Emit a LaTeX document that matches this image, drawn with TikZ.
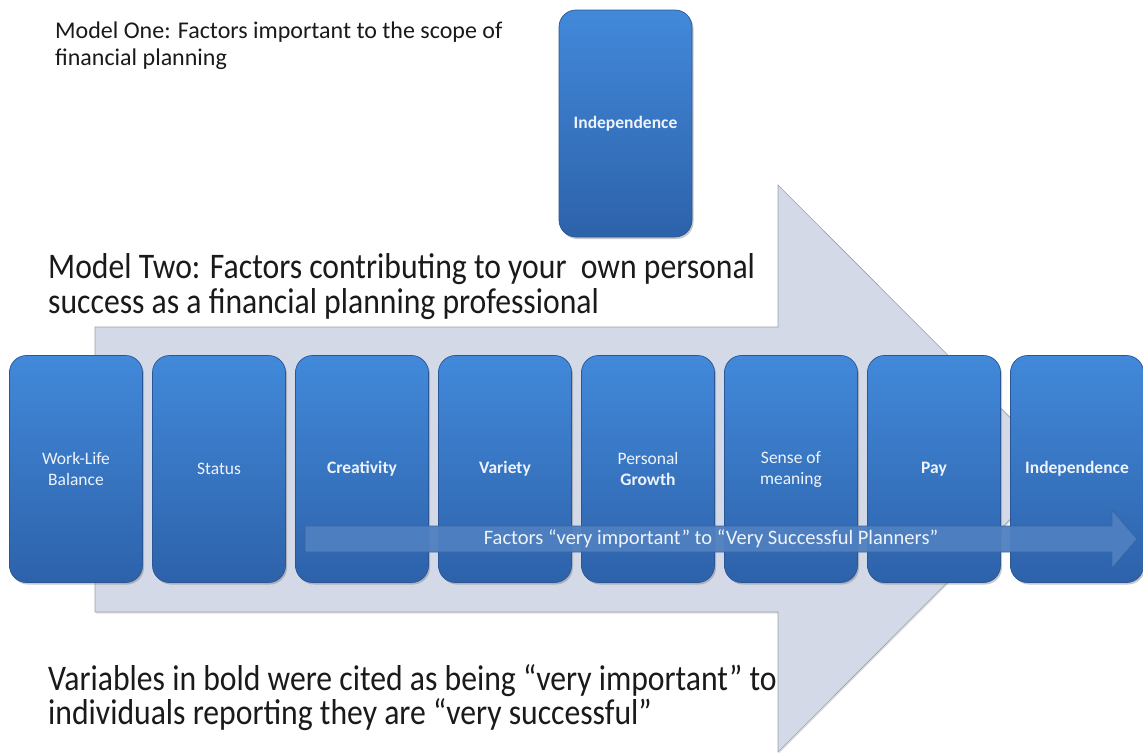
\documentclass[tikz,border=0pt]{standalone}
\usepackage{fontspec}
\setmainfont{Carlito}
\newfontfamily\condfont[FakeStretch=0.88]{Carlito}
\usetikzlibrary{shadows}
\definecolor{arrowfill}{HTML}{D3D9E6}
\definecolor{arrowline}{HTML}{9AA2AE}
\definecolor{boxtop}{HTML}{4289DA}
\definecolor{boxbot}{HTML}{2D62AA}
\definecolor{boxline}{HTML}{2A5695}
\definecolor{boxtext}{HTML}{EEF3FA}
\definecolor{thinfill}{HTML}{4F80C0}
\definecolor{thinline}{HTML}{3765A3}
\definecolor{txt}{HTML}{1A1A1A}
\begin{document}
\begin{tikzpicture}[x=1pt,y=-1pt,
  factorbox/.style={draw=boxline, line width=0.7pt, rounded corners=17pt,
    top color=boxtop, bottom color=boxbot, minimum width=133pt, minimum height=227pt,
    inner sep=2pt, text=boxtext, align=center, font=\fontsize{17.5}{21}\selectfont,
    drop shadow={shadow xshift=1.5pt, shadow yshift=-2pt, opacity=0.35, fill=black!60}},
  bigarrow/.style={fill=arrowfill, draw=arrowline, line width=0.6pt,
    drop shadow={shadow xshift=1pt, shadow yshift=-1.5pt, opacity=0.25}},
  thinarrow/.style={fill=thinfill, fill opacity=0.95, draw=thinline, line width=0.7pt},
  caption/.style={anchor=base west, inner sep=0pt, align=left, text=txt}
]
\useasboundingbox (0,0) rectangle (1143,753);
\fill[white] (0,0) rectangle (1143,753);

% big background arrow
\draw[bigarrow] (95,327) -- (778,327) -- (778,185) -- (1061,468.5) -- (778,752) -- (778,612) -- (95,612) -- cycle;

% top text (anchor = baseline of last line)
\node[caption, font=\fontsize{24}{27}\selectfont] (m1) at (55,65)
  {Model One: Factors important to the scope of\\financial planning};

% top independence box
\node[factorbox] (top) at (625.5,123.5) {\textbf{Independence}};

% model two text
\node[caption, font=\condfont\fontsize{36}{35}\selectfont] (m2) at (48,313)
  {Model Two: Factors contributing to your\ \ own personal\\success as a financial planning professional};

% row of factor boxes
\node[factorbox] (b1) at (76,469) {Work-Life\\Balance};
\node[factorbox] (b2) at (219,469) {Status};
\node[factorbox] (b3) at (362,469) {\textbf{Creativity}};
\node[factorbox] (b4) at (505,469) {\textbf{Variety}};
\node[factorbox] (b5) at (648,469) {Personal\\\textbf{Growth}};
\node[factorbox] (b6) at (791,469) {Sense of\\meaning};
\node[factorbox] (b7) at (934,469) {\textbf{Pay}};
\node[factorbox] (b8) at (1077,469) {\textbf{Independence}};

% thin arrow
\draw[thinarrow] (305,526) -- (1112,526) -- (1112,510) -- (1137,539) -- (1112,568) -- (1112,552) -- (305,552) -- cycle;
\node[text=boxtext, font=\fontsize{20.5}{24}\selectfont, inner sep=0pt] (fl) at (711,539)
  {Factors “very important” to “Very Successful Planners”};

% bottom text
\node[caption, font=\condfont\fontsize{36}{34}\selectfont] (m3) at (48,724)
  {Variables in bold were cited as being “very important” to\\individuals reporting they are “very successful”};
\end{tikzpicture}
\end{document}
